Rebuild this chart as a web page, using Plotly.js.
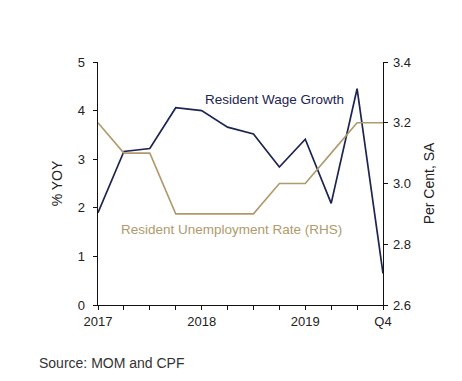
<!DOCTYPE html>
<html>
<head>
<meta charset="utf-8">
<script src="https://cdn.plot.ly/plotly-3.0.1.min.js"></script>
<style>html,body{margin:0;padding:0;background:#fff;}#chart{width:462px;height:381px;}</style>
</head>
<body>
<div id="chart"></div>
<script>
var quarters = ["2017Q1","2017Q2","2017Q3","2017Q4","2018Q1","2018Q2","2018Q3","2018Q4","2019Q1","2019Q2","2019Q3","2019Q4"];
var wageGrowth = [1.9, 3.16, 3.22, 4.06, 4.0, 3.66, 3.52, 2.84, 3.41, 2.09, 4.45, 0.65];
var unemployment = [3.2, 3.1, 3.1, 2.9, 2.9, 2.9, 2.9, 3.0, 3.0, 3.1, 3.2, 3.2];
var xTickText = ["2017","","","","2018","","","","2019","","","Q4"];

var xIdx = quarters.map(function(q, i){ return i; });
var navy = "#1c2451";
var tan = "#b09a6c";

var data = [
  {x: xIdx, y: wageGrowth, type: "scatter", mode: "lines", name: "Resident Wage Growth",
   line: {color: navy, width: 1.7}, yaxis: "y", hoverinfo: "skip"},
  {x: xIdx, y: unemployment, type: "scatter", mode: "lines", name: "Resident Unemployment Rate (RHS)",
   line: {color: tan, width: 1.6}, yaxis: "y2", hoverinfo: "skip"}
];

var fnt = {family: "Liberation Sans, Arial, sans-serif", size: 13, color: "#222"};
var tfnt = {family: "Liberation Sans, Arial, sans-serif", size: 14, color: "#222"};

var layout = {
  width: 462, height: 381,
  margin: {l: 98, r: 79, t: 62, b: 76},
  paper_bgcolor: "#fff", plot_bgcolor: "#fff",
  showlegend: false,
  font: fnt,
  xaxis: {
    range: [0, 11], tickmode: "array", tickvals: xIdx, ticktext: xTickText,
    showgrid: false, zeroline: false, showline: true, linecolor: "#111", linewidth: 1.3,
    ticks: "outside", ticklen: 4, tickcolor: "#111", tickfont: fnt, fixedrange: true
  },
  yaxis: {
    range: [0, 5], dtick: 1, showgrid: false, zeroline: false, showline: true,
    linecolor: "#111", linewidth: 1.3, ticks: "outside", ticklen: 4, tickcolor: "#111",
    tickfont: fnt, ticklabelstandoff: 5, title: {text: "% YOY", font: tfnt, standoff: 12}
  },
  yaxis2: {
    range: [2.6, 3.4], dtick: 0.2, tickformat: ".1f", overlaying: "y", side: "right",
    showgrid: false, zeroline: false, showline: true, linecolor: "#111", linewidth: 1.3,
    ticks: "outside", ticklen: 4, tickcolor: "#111", tickfont: fnt, ticklabelstandoff: 2,
    title: {text: "Per Cent, SA", font: tfnt, standoff: 14}
  },
  annotations: [
    {text: "Resident Wage Growth", xref: "paper", yref: "paper", x: 0.62, y: 0.845,
     xanchor: "center", yanchor: "middle", showarrow: false,
     font: {family: fnt.family, size: 13.5, color: navy}},
    {text: "Resident Unemployment Rate (RHS)", xref: "paper", yref: "paper", x: 0.47, y: 0.31,
     xanchor: "center", yanchor: "middle", showarrow: false,
     font: {family: fnt.family, size: 13.5, color: tan}},
    {text: "Source: MOM and CPF", xref: "paper", yref: "paper", x: -0.215, y: -0.24,
     xanchor: "left", yanchor: "middle", showarrow: false,
     font: {family: fnt.family, size: 14, color: "#333"}}
  ]
};

Plotly.newPlot("chart", data, layout, {displayModeBar: false, staticPlot: true});
</script>
</body>
</html>
